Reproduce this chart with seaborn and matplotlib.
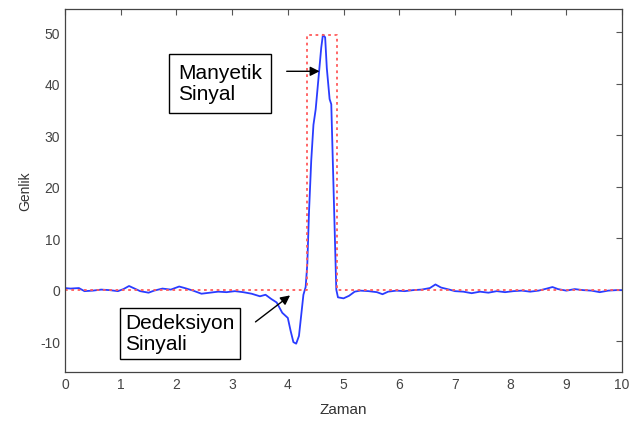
import matplotlib
matplotlib.use("Agg")
import matplotlib.pyplot as plt
import seaborn as sns
import pandas as pd

# Measured signal (blue)
sig_x = [0.0, 0.1, 0.25, 0.35, 0.5, 0.65, 0.8, 0.95, 1.05, 1.15, 1.25, 1.35, 1.5, 1.6,
         1.75, 1.9, 2.05, 2.15, 2.3, 2.45, 2.6, 2.75, 2.9, 3.05, 3.2, 3.35, 3.5, 3.6,
         3.7, 3.8, 3.9, 4.0, 4.05, 4.1, 4.15, 4.2, 4.25, 4.28, 4.32, 4.35, 4.38, 4.42,
         4.46, 4.5, 4.55, 4.6, 4.63, 4.67, 4.7, 4.75, 4.78, 4.8, 4.82, 4.85, 4.87, 4.9,
         5.0, 5.1, 5.2, 5.3, 5.45, 5.6, 5.7, 5.8, 5.95, 6.1, 6.25, 6.4, 6.55, 6.65,
         6.75, 6.9, 7.0, 7.15, 7.3, 7.45, 7.6, 7.75, 7.9, 8.05, 8.2, 8.35, 8.5, 8.65,
         8.75, 8.85, 9.0, 9.15, 9.3, 9.45, 9.6, 9.75, 9.9, 10.0]
sig_y = [0.3, 0.2, 0.3, -0.3, -0.2, 0.0, -0.1, -0.3, 0.1, 0.7, 0.2, -0.3, -0.6, -0.2,
         0.2, 0.0, 0.6, 0.3, -0.2, -0.8, -0.6, -0.4, -0.5, -0.3, -0.5, -0.8, -1.3, -1.0,
         -1.8, -2.5, -4.5, -5.5, -8.0, -10.2, -10.5, -9.0, -4.0, -1.0, 0.5, 5.0, 15.0, 25.0,
         32.0, 35.0, 41.0, 47.0, 49.5, 49.0, 43.0, 37.0, 36.0, 28.0, 20.0, 8.0, 0.0, -1.5,
         -1.7, -1.2, -0.4, -0.2, -0.3, -0.5, -0.9, -0.4, -0.2, -0.3, -0.1, 0.0, 0.3, 1.0,
         0.4, 0.0, -0.3, -0.4, -0.7, -0.4, -0.6, -0.3, -0.5, -0.3, -0.2, -0.4, -0.2, 0.2,
         0.5, 0.1, -0.2, 0.1, -0.1, -0.2, -0.5, -0.2, -0.1, -0.1]

# Ideal pulse (red dotted)
pulse_x = [0.0, 4.34, 4.34, 4.88, 4.88, 10.0]
pulse_y = [0.0, 0.0, 49.5, 49.5, 0.0, 0.0]

x_ticks = [0, 1, 2, 3, 4, 5, 6, 7, 8, 9, 10]
y_ticks = [-10, 0, 10, 20, 30, 40, 50]

sns.set_style("white")
plt.rcParams['font.family'] = ['Liberation Sans', 'DejaVu Sans']

fig = plt.figure(figsize=(6.29, 4.27), dpi=100)
ax = fig.add_axes([0.1033, 0.1265, 0.8857, 0.8501])

sig = pd.DataFrame({"x": sig_x, "y": sig_y})
pul = pd.DataFrame({"x": pulse_x, "y": pulse_y})

sns.lineplot(data=sig, x="x", y="y", ax=ax, color="#2a3cff", lw=1.3,
             estimator=None, sort=False)
sns.lineplot(data=pul, x="x", y="y", ax=ax, color="#ff5a5a", lw=1.3,
             linestyle=(0, (1.5, 2)), estimator=None, sort=False)

ax.set_xlim(0, 10)
ax.set_ylim(-16, 54.5)
ax.set_xticks(x_ticks)
ax.set_yticks(y_ticks)
ax.set_xticklabels([str(v) for v in x_ticks])
ax.set_yticklabels([str(v) for v in y_ticks])
ax.tick_params(direction="in", top=True, right=True, length=4, width=0.8,
               colors="#555555", labelsize=10, labelcolor="#444444")
for s in ax.spines.values():
    s.set_color("#444444")
    s.set_linewidth(0.9)

ax.set_xlabel("Zaman", fontsize=11, color="#333333", labelpad=8)
ax.set_ylabel("Genlik", fontsize=10, color="#333333", labelpad=6)

ax.text(2.03, 40.1, "Manyetik\nSinyal", fontsize=15, ha="left", va="center", color="black",
        linespacing=1.15, bbox=dict(boxstyle="square,pad=0.45", fc="white", ec="black", lw=1))
ax.annotate("", xy=(4.62, 42.4), xytext=(3.93, 42.4),
            arrowprops=dict(arrowstyle="-|>", color="black", lw=1, mutation_scale=14))

ax.text(1.08, -8.5, "Dedeksiyon\nSinyali", fontsize=15, ha="left", va="center", color="black",
        linespacing=1.15, bbox=dict(boxstyle="square,pad=0.25", fc="white", ec="black", lw=1))
ax.annotate("", xy=(4.08, -0.8), xytext=(3.38, -6.6),
            arrowprops=dict(arrowstyle="-|>", color="black", lw=1, mutation_scale=14))

fig.savefig("out.png", dpi=100)
